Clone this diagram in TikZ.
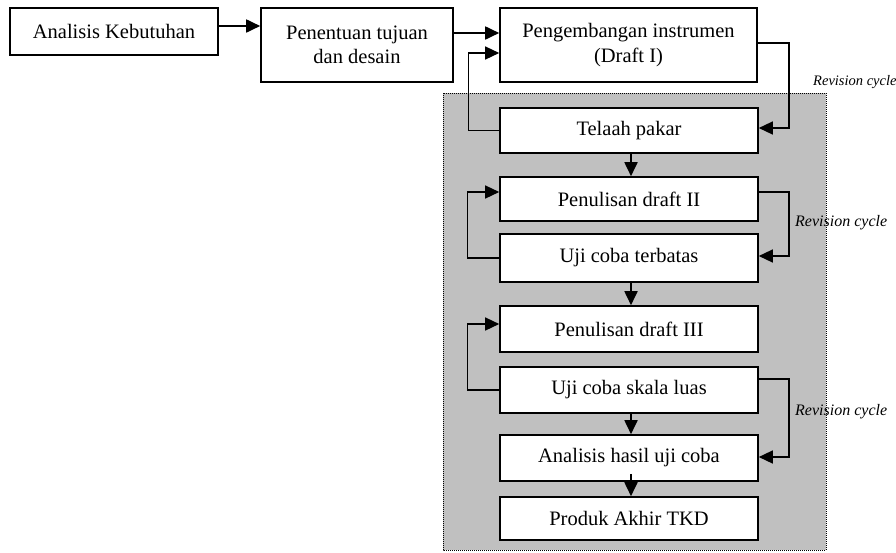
\documentclass[tikz,border=0pt]{standalone}
\usepackage{fontspec}
\setmainfont{Liberation Serif}
\usetikzlibrary{arrows.meta,calc}
\definecolor{greyfill}{HTML}{C0C0C0}
\tikzset{
  box/.style={draw=black, line width=1.6pt, fill=white, align=center, inner sep=0pt,
    font=\fontsize{20.5}{24.5}\selectfont},
  arr/.style={line width=1.8pt, -{Triangle[length=14pt,width=13pt]}},
  loop/.style={line width=1.4pt, -{Triangle[length=14pt,width=13pt]}},
  rev/.style={anchor=west, font=\itshape\fontsize{16}{18}\selectfont, inner sep=0pt}
}
\begin{document}
\begin{tikzpicture}[x=1pt,y=-1pt]
\useasboundingbox (0,0) rectangle (896,552);
\fill[greyfill] (443,93) rectangle (826,550);
\draw[densely dotted, line width=1pt] (443,93) rectangle (826,550);

\node[box, minimum width=208pt, minimum height=47pt] (b1) at (114,31.5) {Analisis Kebutuhan};
\node[box, minimum width=192pt, minimum height=74pt] (b2) at (357,45) {Penentuan tujuan\\dan desain};
\node[box, minimum width=257pt, minimum height=74pt] (b3) at (628.5,45) {Pengembangan instrumen\\(Draft I)};
\node[box, minimum width=258pt, minimum height=45pt] (tp) at (629,130.5) {Telaah pakar};
\node[box, minimum width=258pt, minimum height=44pt] (d2) at (629,199) {Penulisan draft II};
\node[box, minimum width=258pt, minimum height=48pt] (ut) at (629,258) {Uji coba terbatas};
\node[box, minimum width=258pt, minimum height=46pt] (d3) at (629,329) {Penulisan draft III};
\node[box, minimum width=258pt, minimum height=46pt] (us) at (629,390) {Uji coba skala luas};
\node[box, minimum width=258pt, minimum height=46pt] (an) at (629,458) {Analisis hasil uji coba};
\node[box, minimum width=258pt, minimum height=43pt] (pr) at (629,518.5) {Produk Akhir TKD};

\node[rev, font=\itshape\fontsize{14.5}{16}\selectfont] (r1) at (813,82) {Revision cycle};
\node[rev] (r2) at (795,223) {Revision cycle};
\node[rev] (r3) at (795,412) {Revision cycle};

% main flow
\draw[arr] ([yshift=5.5pt]b1.east) -- ([yshift=19pt]b2.west);
\draw[arr] ([yshift=12pt]b2.east) -- ([yshift=12pt]b3.west);
\draw[loop] (tp.west) -- ++(-31,0) |- ([yshift=-8pt]b3.west);
\draw[loop] ([yshift=2pt]b3.east) -- ++(31,0) |- ([yshift=2.5pt]tp.east);
\draw[arr] ([xshift=2pt]tp.south) -- ([xshift=2pt]d2.north);

\draw[loop] ([yshift=7pt]d2.east) -- ++(30,0) |- ([yshift=2pt]ut.east);
\draw[loop] (ut.west) -- ++(-32,0) |- ([yshift=7pt]d2.west);
\draw[arr] ([xshift=2pt]ut.south) -- ([xshift=2pt]d3.north);

\draw[loop] (us.west) -- ++(-32,0) |- ([yshift=5pt]d3.west);
\draw[loop] ([yshift=11pt]us.east) -- ++(30,0) |- ([yshift=1pt]an.east);
\draw[arr] ([xshift=2pt]us.south) -- ([xshift=2pt]an.north);
\draw[arr] ([xshift=2pt,yshift=8pt]an.south) -- ([xshift=2pt]pr.north);
\end{tikzpicture}
\end{document}
